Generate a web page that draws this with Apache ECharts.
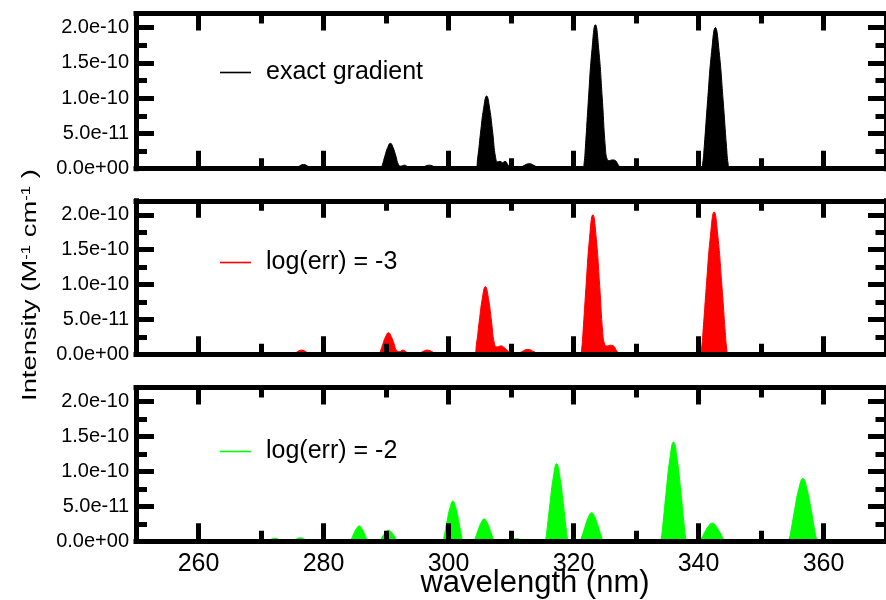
<!DOCTYPE html>
<html>
<head>
<meta charset="utf-8">
<script src="https://cdn.jsdelivr.net/npm/echarts@6/dist/echarts.min.js"></script>
<style>
  html, body { margin: 0; padding: 0; background: #ffffff; }
  #chart { width: 886px; height: 600px; }
</style>
</head>
<body>
<div id="chart"></div>
<script>
// Axis ranges and tick positions
const wavelengthRange = [250, 370];
const xMajorTicks = [260, 280, 300, 320, 340, 360];
const xMinorTicks = [270, 290, 310, 330, 350];
const intensityRange = [0, 2.2e-10];
const yMajorTicks = [0, 5e-11, 1e-10, 1.5e-10, 2e-10];
const yMinorTicks = [2.5e-11, 7.5e-11, 1.25e-10, 1.75e-10];
const yTickLabels = ['0.0e+00', '5.0e-11', '1.0e-10', '1.5e-10', '2.0e-10'];

const seriesNames = ['exact gradient', 'log(err) = -3', 'log(err) = -2'];
const seriesColors = ['#000000', '#ff0000', '#00ff00'];

// Spectra: [wavelength (nm), intensity in units of 1e-11 M^-1 cm^-1]
const intensityUnit = 1e-11;

const exactGradient = [
  [250, 0],
  [275.34, 0], [276.0, 0.3], [276.8, 0.6], [277.6, 0.3], [278.26, 0],
  [289.09, 0], [289.41, 0.54], [289.81, 1.76], [290.27, 3.0], [290.7, 3.6], [291.13, 3.0], [291.59, 1.76], [291.99, 0.6],
  [292.4, 0.35], [292.9, 0.5], [293.5, 0.28], [294.3, 0],
  [295.22, 0], [295.98, 0.25], [296.9, 0.5], [297.82, 0.25], [298.58, 0],
  [304.31, 0], [304.67, 1.55], [305.12, 5.05], [305.62, 8.55], [306.1, 10.3], [306.58, 8.55], [307.08, 5.05], [307.53, 1.6],
  [307.9, 0.95], [308.25, 1.05], [308.65, 0.85], [309.05, 1.05], [309.55, 0.5], [310.2, 0],
  [311.03, 0], [311.87, 0.35], [312.9, 0.7], [313.93, 0.35], [314.77, 0],
  [321.5, 0], [321.7, 0.8], [321.9, 3.0], [322.4, 10.0], [322.96, 16.9], [323.5, 20.4], [324.04, 16.9], [324.6, 10.0], [325.1, 3.0],
  [325.4, 1.3], [325.75, 1.15], [326.2, 1.25], [326.7, 1.15], [327.2, 0.5], [327.8, 0],
  [340.46, 0], [340.68, 0.8], [340.91, 3.0], [341.47, 9.8], [342.1, 16.6], [342.7, 20.0], [343.3, 16.6], [343.93, 9.8], [344.49, 3.0], [344.72, 0.8], [344.94, 0],
  [370, 0]
];

const logErrMinus3 = [
  [250, 0],
  [275.04, 0], [275.7, 0.3], [276.5, 0.6], [277.3, 0.3], [277.96, 0],
  [280.28, 0], [281.0, 0.12], [281.8, 0.25], [282.6, 0.12], [283.32, 0],
  [288.79, 0], [289.11, 0.47], [289.51, 1.52], [289.97, 2.57], [290.4, 3.1], [290.83, 2.57], [291.29, 1.52], [291.69, 0.55],
  [292.2, 0.4], [292.7, 0.6], [293.3, 0.3], [294.1, 0],
  [294.92, 0], [295.68, 0.3], [296.6, 0.6], [297.52, 0.3], [298.28, 0],
  [304.11, 0], [304.47, 1.45], [304.92, 4.75], [305.42, 8.05], [305.9, 9.7], [306.38, 8.05], [306.88, 4.75], [307.33, 1.6],
  [307.75, 1.05], [308.4, 1.2], [309.0, 0.9], [309.6, 0.4], [310.2, 0],
  [310.83, 0], [311.67, 0.35], [312.7, 0.7], [313.73, 0.35], [314.57, 0],
  [321.11, 0], [321.31, 0.8], [321.51, 3.0], [322.01, 9.8], [322.56, 16.6], [323.1, 20.0], [323.64, 16.6], [324.19, 9.8], [324.69, 3.0],
  [325.0, 1.4], [325.4, 1.2], [325.9, 1.3], [326.4, 1.2], [326.9, 0.5], [327.5, 0],
  [340.26, 0], [340.48, 0.8], [340.71, 3.1], [341.27, 10.0], [341.9, 16.9], [342.5, 20.4], [343.1, 16.9], [343.73, 10.0], [344.29, 3.1], [344.52, 0.8], [344.74, 0],
  [370, 0]
];

const logErrMinus2 = [
  [250, 0],
  [270.78, 0], [271.42, 0.22], [272.2, 0.45], [272.98, 0.22], [273.62, 0],
  [274.84, 0], [275.5, 0.25], [276.3, 0.5], [277.1, 0.25], [277.76, 0],
  [284.14, 0], [284.45, 0.33], [284.84, 1.08], [285.28, 1.83], [285.7, 2.2], [286.12, 1.83], [286.56, 1.08], [286.95, 0.33], [287.26, 0],
  [288.79, 0], [289.11, 0.24], [289.51, 0.78], [289.97, 1.33], [290.4, 1.6], [290.83, 1.33], [291.29, 0.78], [291.69, 0.24], [292.01, 0],
  [293.24, 0], [294.0, 0.1], [294.9, 0.2], [295.8, 0.1], [296.56, 0],
  [298.97, 0], [299.32, 0.86], [299.75, 2.82], [300.23, 4.77], [300.7, 5.75], [301.17, 4.77], [301.65, 2.82], [302.08, 0.86], [302.43, 0],
  [303.92, 0], [304.28, 0.48], [304.72, 1.57], [305.22, 2.66], [305.7, 3.2], [306.18, 2.66], [306.68, 1.57], [307.12, 0.48], [307.48, 0],
  [309.05, 0], [309.9, 0.17], [310.9, 0.35], [311.9, 0.17], [312.75, 0],
  [315.38, 0], [315.57, 0.44], [315.76, 1.67], [316.24, 5.44], [316.78, 9.21], [317.3, 11.1], [317.82, 9.21], [318.36, 5.44], [318.84, 1.67], [319.03, 0.44], [319.22, 0],
  [320.91, 0], [321.31, 0.62], [321.81, 2.0], [322.36, 3.4], [322.9, 4.1], [323.44, 3.4], [323.99, 2.0], [324.49, 0.62], [324.89, 0],
  [326.73, 0], [327.7, 0.07], [328.8, 0.15], [329.9, 0.07], [330.87, 0],
  [333.84, 0], [334.06, 0.57], [334.27, 2.13], [334.81, 6.96], [335.42, 11.8], [336.0, 14.2], [336.58, 11.8], [337.19, 6.96], [337.73, 2.13], [337.94, 0.57], [338.16, 0],
  [339.96, 0], [340.41, 0.39], [340.97, 1.27], [341.6, 2.16], [342.2, 2.6], [342.8, 2.16], [343.43, 1.27], [343.99, 0.39], [344.44, 0],
  [354.27, 0], [354.51, 0.36], [354.76, 1.35], [355.36, 4.41], [356.04, 7.47], [356.7, 9.0], [357.36, 7.47], [358.04, 4.41], [358.64, 1.35], [358.89, 0.36], [359.13, 0],
  [370, 0]
];

const spectra = [exactGradient, logErrMinus3, logErrMinus2];

// ---- layout of the three stacked panels ----
const FONT = 'Liberation Sans';
const panels = [
  { top: 13.5, height: 155.2, legendTop: 60 },
  { top: 200.8, height: 153.5, legendTop: 250 },
  { top: 387.5, height: 153.8, legendTop: 439 }
];
const plotLeft = 136;
const plotWidth = 756;

const frameLine = { color: '#000', width: 5, cap: 'square' };
const tickLine = { color: '#000', width: 5 };

function yLabel(v) {
  const i = yMajorTicks.findIndex(t => Math.abs(t - v) < 1e-13);
  return i >= 0 ? yTickLabels[i] : '';
}

const grids = [], xAxes = [], yAxes = [], series = [], legends = [];

panels.forEach((p, i) => {
  grids.push({ left: plotLeft, top: p.top, width: plotWidth, height: p.height, containLabel: false });

  const isBottomPanel = i === panels.length - 1;
  const xBase = {
    gridIndex: i, type: 'value', min: wavelengthRange[0], max: wavelengthRange[1], z: 10,
    splitLine: { show: false }
  };
  // bottom frame with major ticks (and labels on the last panel)
  xAxes.push(Object.assign({}, xBase, {
    position: 'bottom',
    axisLine: { show: true, onZero: false, lineStyle: frameLine },
    axisTick: { show: true, inside: true, length: 18, lineStyle: tickLine, customValues: xMajorTicks },
    axisLabel: {
      show: isBottomPanel, customValues: xMajorTicks, margin: 10,
      color: '#000', fontSize: 25, fontFamily: FONT
    }
  }));
  // bottom minor ticks
  xAxes.push(Object.assign({}, xBase, {
    position: 'bottom',
    axisLine: { show: false, onZero: false },
    axisTick: { show: true, inside: true, length: 10.5, lineStyle: tickLine, customValues: xMinorTicks },
    axisLabel: { show: false }
  }));
  // top frame
  xAxes.push(Object.assign({}, xBase, {
    position: 'top',
    axisLine: { show: true, onZero: false, lineStyle: frameLine },
    axisTick: { show: true, inside: true, length: 17, lineStyle: tickLine, customValues: xMajorTicks },
    axisLabel: { show: false }
  }));
  xAxes.push(Object.assign({}, xBase, {
    position: 'top',
    axisLine: { show: false, onZero: false },
    axisTick: { show: true, inside: true, length: 10, lineStyle: tickLine, customValues: xMinorTicks },
    axisLabel: { show: false }
  }));

  const yBase = {
    gridIndex: i, type: 'value', min: intensityRange[0], max: intensityRange[1], z: 10,
    splitLine: { show: false }
  };
  yAxes.push(Object.assign({}, yBase, {
    position: 'left',
    axisLine: { show: true, onZero: false, lineStyle: frameLine },
    axisTick: { show: true, inside: true, length: 18, lineStyle: tickLine, customValues: yMajorTicks },
    axisLabel: {
      show: true, customValues: yMajorTicks, margin: 7, formatter: yLabel,
      color: '#000', fontSize: 20, fontFamily: FONT, padding: [3, 0, 0, 0]
    }
  }));
  yAxes.push(Object.assign({}, yBase, {
    position: 'left',
    axisLine: { show: false, onZero: false },
    axisTick: { show: true, inside: true, length: 11, lineStyle: tickLine, customValues: yMinorTicks },
    axisLabel: { show: false }
  }));
  yAxes.push(Object.assign({}, yBase, {
    position: 'right',
    axisLine: { show: true, onZero: false, lineStyle: frameLine },
    axisTick: { show: true, inside: true, length: 18, lineStyle: tickLine, customValues: yMajorTicks },
    axisLabel: { show: false }
  }));
  yAxes.push(Object.assign({}, yBase, {
    position: 'right',
    axisLine: { show: false, onZero: false },
    axisTick: { show: true, inside: true, length: 10.5, lineStyle: tickLine, customValues: yMinorTicks },
    axisLabel: { show: false }
  }));

  const color = seriesColors[i];
  series.push({
    type: 'line',
    name: seriesNames[i],
    xAxisIndex: i * 4,
    yAxisIndex: i * 4,
    data: spectra[i].map(([nm, v]) => [nm, v * intensityUnit]),
    smooth: 0.5,
    symbol: 'none',
    showSymbol: false,
    silent: true,
    color: color,
    itemStyle: { color: color },
    lineStyle: { color: color, width: 1 },
    areaStyle: { color: color, opacity: 1 },
    z: 2
  });

  legends.push({
    data: [seriesNames[i]],
    left: 220,
    top: p.legendTop,
    padding: 0,
    orient: 'horizontal',
    icon: 'rect',
    itemWidth: 31,
    itemHeight: 1.6,
    selectedMode: false,
    textStyle: { color: '#000', fontSize: 25, fontFamily: FONT, padding: [0, 0, 0, 10] }
  });
});

const chart = echarts.init(document.getElementById('chart'), null, { renderer: 'canvas' });
chart.setOption({
  animation: false,
  backgroundColor: '#ffffff',
  textStyle: { fontFamily: FONT },
  grid: grids,
  xAxis: xAxes,
  yAxis: yAxes,
  legend: legends,
  series: series,
  graphic: [
    {
      type: 'text',
      x: 535,
      y: 583,
      z: 20,
      style: {
        text: 'wavelength (nm)',
        fontSize: 31, fontFamily: FONT, fill: '#000',
        align: 'center', verticalAlign: 'middle',
        textAlign: 'center', textVerticalAlign: 'middle'
      }
    },
    {
      type: 'text',
      x: 30.5,
      y: 285,
      rotation: Math.PI / 2,
      scaleX: 1.3,
      z: 20,
      style: {
        text: 'Intensity (M{s|-1} cm{s|-1} )',
        fontSize: 21, fontFamily: FONT, fill: '#000',
        align: 'center', verticalAlign: 'middle',
        textAlign: 'center', textVerticalAlign: 'middle',
        rich: {
          s: { fontSize: 13, fontFamily: FONT, fill: '#000', lineHeight: 13, verticalAlign: 'top', padding: [0, 0, 14, 0] }
        }
      }
    }
  ]
});
</script>
</body>
</html>
